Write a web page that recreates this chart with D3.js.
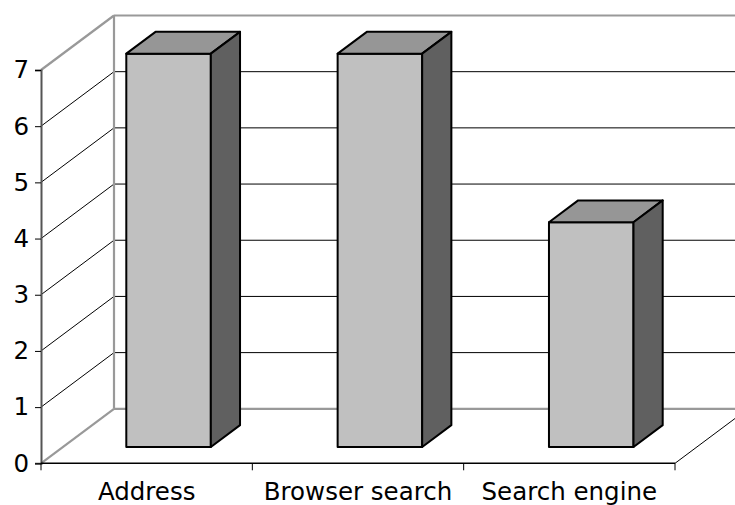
<!DOCTYPE html>
<html>
<head>
<meta charset="utf-8">
<script src="https://cdn.jsdelivr.net/npm/d3@7"></script>
<style>
html,body{margin:0;padding:0;background:#fff;}
svg{display:block;font-family:"DejaVu Sans",Verdana,sans-serif;}
</style>
</head>
<body>
<svg id="chart" width="735" height="505"></svg>
<script>
const categories = ["Address", "Browser search", "Search engine"];
const values = [7, 7, 4];
const yTicks = [0, 1, 2, 3, 4, 5, 6, 7];

const plotL = 41, plotR = 675, plotB = 463.3, plotT = 70;
const depthX = 73, depthY = -54.5;      // full floor depth offset
const barFront = 0.3, barDepth = 0.4;   // fractions of the depth

const svg = d3.select("#chart");
const x = d3.scaleBand().domain(categories).range([plotL, plotR])
  .paddingInner(0.6).paddingOuter(0.3);
const y = d3.scaleLinear().domain([0, 7]).range([plotB, plotT]);
const step = x.step();

const g = svg.append("g");
const grey = "#999999";

// back wall gridlines (values 1..6)
g.selectAll(".bgrid").data(yTicks.filter(v => v > 0 && v < 7)).enter()
  .append("line")
  .attr("x1", plotL + depthX).attr("x2", plotR + depthX)
  .attr("y1", d => y(d) + depthY).attr("y2", d => y(d) + depthY)
  .attr("stroke", "#000").attr("stroke-width", 1);

// side wall diagonals
g.selectAll(".sgrid").data(yTicks.filter(v => v > 0 && v < 7)).enter()
  .append("line")
  .attr("x1", plotL).attr("x2", plotL + depthX)
  .attr("y1", d => y(d)).attr("y2", d => y(d) + depthY)
  .attr("stroke", "#000").attr("stroke-width", 1);

// wall edges (grey)
const edges = [
  [plotL + depthX, y(7) + depthY, plotR + depthX, y(7) + depthY],
  [plotL + depthX, y(7) + depthY, plotL + depthX, y(0) + depthY],
  [plotL, y(7), plotL + depthX, y(7) + depthY],
  [plotL, y(0), plotL + depthX, y(0) + depthY],
  [plotL + depthX, y(0) + depthY, plotR + depthX, y(0) + depthY]
];
g.selectAll(".edge").data(edges).enter().append("line")
  .attr("x1", d => d[0]).attr("y1", d => d[1])
  .attr("x2", d => d[2]).attr("y2", d => d[3])
  .attr("stroke", grey).attr("stroke-width", 2.2);

// floor right diagonal
g.append("line")
  .attr("x1", plotR).attr("y1", y(0))
  .attr("x2", plotR + depthX).attr("y2", y(0) + depthY)
  .attr("stroke", "#000").attr("stroke-width", 1);

// bars
const fx = depthX * barFront, fy = depthY * barFront;
const dx = depthX * barDepth, dy = depthY * barDepth;
const bars = g.selectAll(".bar").data(categories.map((c, i) => ({c, v: values[i]})))
  .enter().append("g");
bars.append("rect")
  .attr("x", d => x(d.c) + fx)
  .attr("y", d => y(d.v) + fy)
  .attr("width", x.bandwidth())
  .attr("height", d => y(0) - y(d.v))
  .attr("fill", "#C0C0C0").attr("stroke", "#000").attr("stroke-width", 2)
  .attr("stroke-linejoin", "round");
bars.append("path")
  .attr("d", d => {
    const x0 = x(d.c) + fx, x1 = x0 + x.bandwidth(), yt = y(d.v) + fy;
    return `M${x0},${yt}L${x0 + dx},${yt + dy}L${x1 + dx},${yt + dy}L${x1},${yt}Z`;
  })
  .attr("fill", "#969696").attr("stroke", "#000").attr("stroke-width", 2)
  .attr("stroke-linejoin", "round");
bars.append("path")
  .attr("d", d => {
    const x1 = x(d.c) + fx + x.bandwidth(), yt = y(d.v) + fy, yb = y(0) + fy;
    return `M${x1},${yt}L${x1 + dx},${yt + dy}L${x1 + dx},${yb + dy}L${x1},${yb}Z`;
  })
  .attr("fill", "#606060").attr("stroke", "#000").attr("stroke-width", 2)
  .attr("stroke-linejoin", "round");

// y axis (front left edge)
const yAxis = d3.axisLeft(y).tickValues(yTicks).tickSize(6).tickPadding(6)
  .tickFormat(d3.format("d"));
const ya = svg.append("g").attr("transform", `translate(${plotL},0)`).call(yAxis);
ya.select(".domain").attr("stroke", "#555").attr("stroke-width", 2);
ya.selectAll(".tick line").attr("stroke", "#000").attr("stroke-width", 1);
ya.selectAll(".tick text").attr("font-size", 24.5).attr("fill", "#000")
  .attr("font-family", "DejaVu Sans, Verdana, sans-serif");

// x axis (front floor edge)
svg.append("line").attr("x1", plotL).attr("x2", plotR)
  .attr("y1", y(0)).attr("y2", y(0)).attr("stroke", "#000").attr("stroke-width", 1.6);
const bounds = d3.range(categories.length + 1).map(i => plotL + i * step);
svg.selectAll(".xt").data(bounds).enter().append("line")
  .attr("x1", d => d).attr("x2", d => d)
  .attr("y1", y(0)).attr("y2", y(0) + 7)
  .attr("stroke", "#000").attr("stroke-width", 1);
svg.selectAll(".xl").data(categories).enter().append("text")
  .attr("x", d => x(d) + x.bandwidth() / 2)
  .attr("y", 500)
  .attr("text-anchor", "middle")
  .attr("font-size", 24.5).attr("fill", "#000")
  .text(d => d);
</script>
</body>
</html>
